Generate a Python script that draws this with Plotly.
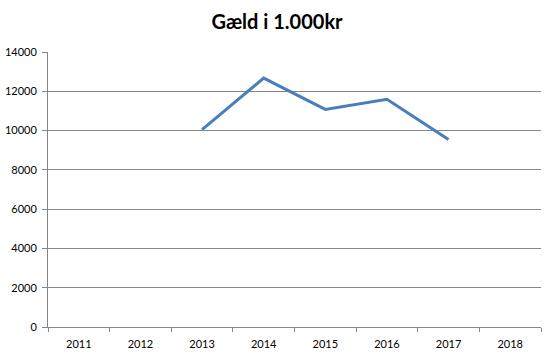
import plotly.graph_objects as go

years = ["2011", "2012", "2013", "2014", "2015", "2016", "2017", "2018"]
debt = [None, None, 10050, 12670, 11080, 11590, 9540, None]
y_ticks = [0, 2000, 4000, 6000, 8000, 10000, 12000, 14000]
title = "Gæld i 1.000kr"

fig = go.Figure()
fig.add_trace(go.Scatter(
    x=years, y=debt, mode="lines",
    line=dict(color="#4A7EBB", width=3),
    connectgaps=False, showlegend=False,
))

fig.update_layout(
    width=547, height=357,
    margin=dict(l=48, r=6, t=52, b=30),
    paper_bgcolor="white", plot_bgcolor="white",
    font=dict(family="Lato, Open Sans, sans-serif", size=11, color="#000000"),
    title=dict(text="<b>" + title + "</b>", x=277 / 547, xref="container",
               xanchor="center", y=1 - 22 / 357, yref="container", yanchor="middle",
               font=dict(size=20, family="Lato, Open Sans, sans-serif", color="#000")),
)
fig.update_xaxes(
    type="category", categoryorder="array", categoryarray=years,
    range=[-0.5, len(years) - 0.5],
    tickson="boundaries", ticks="outside", ticklen=4, tickcolor="#868686",
    showline=True, linecolor="#868686", linewidth=1,
    showgrid=False, tickfont=dict(size=11), ticklabelstandoff=7,
)
fig.update_yaxes(
    range=[0, 14000], tickvals=y_ticks, ticktext=[str(v) for v in y_ticks],
    ticks="outside", ticklen=5, tickcolor="#868686",
    showline=True, linecolor="#868686", linewidth=1,
    showgrid=True, gridcolor="#868686", gridwidth=1,
    zeroline=False, tickfont=dict(size=11), ticklabelstandoff=3,
)

fig.write_html("out.html")
